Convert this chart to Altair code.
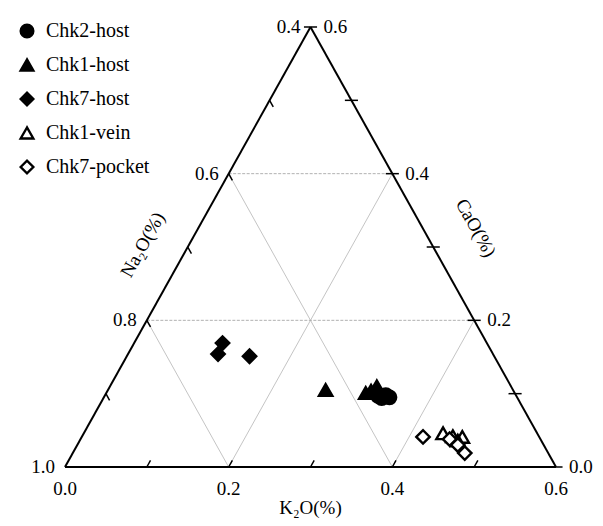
import altair as alt
import pandas as pd

# ---------------- data (ternary fractions: K2O, CaO; Na2O = 1 - K2O - CaO) -------------
series = ["Chk2-host", "Chk1-host", "Chk7-host", "Chk1-vein", "Chk7-pocket"]
shapes = ["circle", "triangle-up", "diamond", "triangle-up", "diamond"]
fills = ["black", "black", "black", "white", "white"]
strokes = ["black", "black", "black", "black", "black"]

chk2_host_k2o = [0.334, 0.343, 0.349, 0.340]
chk2_host_cao = [0.097, 0.098, 0.095, 0.094]

chk1_host_k2o = [0.266, 0.317, 0.326, 0.322]
chk1_host_cao = [0.105, 0.101, 0.110, 0.104]

chk7_host_k2o = [0.108, 0.110, 0.150]
chk7_host_cao = [0.169, 0.154, 0.151]

chk1_vein_k2o = [0.439, 0.453, 0.465, 0.462]
chk1_vein_cao = [0.046, 0.042, 0.041, 0.036]

chk7_pocket_k2o = [0.417, 0.451, 0.465, 0.479]
chk7_pocket_cao = [0.041, 0.038, 0.030, 0.019]

k2o_labels = [0.0, 0.2, 0.4, 0.6]
na2o_labels = [1.0, 0.8, 0.6, 0.4]
cao_labels = [0.0, 0.2, 0.4, 0.6]
tick_values = [0.1, 0.2, 0.3, 0.4, 0.5]
grid_values = [0.2, 0.4]
SPAN = 0.6  # range covered by each side of the partial ternary


def cart(k, c):
    """ternary (K2O, CaO) -> cartesian x, y"""
    return k + c / 2.0, c


# ---------------- points ----------------
rows = []
for name, ks, cs in [
    ("Chk2-host", chk2_host_k2o, chk2_host_cao),
    ("Chk1-host", chk1_host_k2o, chk1_host_cao),
    ("Chk7-host", chk7_host_k2o, chk7_host_cao),
    ("Chk1-vein", chk1_vein_k2o, chk1_vein_cao),
    ("Chk7-pocket", chk7_pocket_k2o, chk7_pocket_cao),
]:
    for k, c in zip(ks, cs):
        x, y = cart(k, c)
        rows.append({"series": name, "x": x, "y": y, "K2O": k, "CaO": c})
pts = pd.DataFrame(rows)

# ---------------- frame, grid, ticks ----------------
def seg(k1, c1, k2, c2):
    x1, y1 = cart(k1, c1)
    x2, y2 = cart(k2, c2)
    return {"x": x1, "y": y1, "x2": x2, "y2": y2}

edges = pd.DataFrame([
    seg(0, 0, SPAN, 0),
    seg(SPAN, 0, 0, SPAN),
    seg(0, SPAN, 0, 0),
])

hgrid = pd.DataFrame([seg(0, v, SPAN - v, v) for v in grid_values])
dgrid = pd.DataFrame(
    [seg(v, 0, v, SPAN - v) for v in grid_values]      # constant K2O
    + [seg(v, 0, 0, v) for v in grid_values]           # constant Na2O
)

TL = 0.009
tick_rows = []
for v in tick_values:
    tick_rows.append(seg(v, 0, v, TL))                 # bottom (K2O)
    tick_rows.append(seg(0, v, TL, v - TL))            # left (Na2O)
for v in [0.0] + tick_values + [SPAN]:
    xr, yr = cart(SPAN - v, v)
    tick_rows.append({"x": xr - 0.008, "y": yr, "x2": xr + 0.008, "y2": yr})  # right (CaO)
ticks = pd.DataFrame(tick_rows)

bottom_lab = pd.DataFrame([dict(zip(["x", "y"], cart(v, 0)), t=f"{v:.1f}") for v in k2o_labels])
left_lab = pd.DataFrame([dict(zip(["x", "y"], cart(0, 1 - v)), t=f"{v:.1f}") for v in na2o_labels])
right_lab = pd.DataFrame([dict(zip(["x", "y"], cart(SPAN - v, v)), t=f"{v:.1f}") for v in cao_labels])

titles_b = pd.DataFrame([{"x": 0.30, "y": 0.0, "t": "K₂O(%)"}])
titles_l = pd.DataFrame([{"x": 0.095, "y": 0.303, "t": "Na₂O(%)"}])
titles_r = pd.DataFrame([{"x": 0.502, "y": 0.326, "t": "CaO(%)"}])

FONT = "Times New Roman, Liberation Serif, DejaVu Serif, serif"
FS = 19
xs = alt.Scale(domain=[0, SPAN], nice=False, zero=False)
ys = alt.Scale(domain=[0, SPAN], nice=False, zero=False)
X = alt.X("x:Q", scale=xs, axis=None)
Y = alt.Y("y:Q", scale=ys, axis=None)


def rules(df, **kw):
    return alt.Chart(df).mark_rule(**kw).encode(x=X, y=Y, x2="x2:Q", y2="y2:Q")


def texts(df, **kw):
    return alt.Chart(df).mark_text(font=FONT, fontSize=FS, color="black", **kw).encode(
        x=X, y=Y, text="t:N")


grid_h = rules(hgrid, color="#a8a8a8", strokeWidth=0.9, strokeDash=[3, 1.5])
grid_d = rules(dgrid, color="#bdbdbd", strokeWidth=0.9)
frame = rules(edges, color="black", strokeWidth=2)
tick_layer = rules(ticks, color="black", strokeWidth=1.5)

lab_b = texts(bottom_lab, align="center", baseline="top", dy=13)
lab_l = texts(left_lab, align="right", baseline="middle", dx=-10)
lab_r = texts(right_lab, align="left", baseline="middle", dx=13)
tit_b = texts(titles_b, align="center", baseline="middle", dy=41)
tit_l = texts(titles_l, align="center", baseline="middle", angle=299)
tit_r = texts(titles_r, align="center", baseline="middle", angle=61)


def leg():
    return alt.Legend(title=None, orient="none", legendX=-48, legendY=-6,
                      labelFont=FONT, labelFontSize=20, labelColor="black",
                      symbolSize=160, symbolStrokeWidth=2.4,
                      symbolStrokeColor="black", rowPadding=11,
                      labelOffset=9, padding=0)


points = alt.Chart(pts).mark_point(strokeWidth=2.4, opacity=1, size=180).encode(
    x=X, y=Y,
    shape=alt.Shape("series:N", scale=alt.Scale(domain=series, range=shapes), legend=leg()),
    fill=alt.Fill("series:N", scale=alt.Scale(domain=series, range=fills), legend=leg()),
    stroke=alt.Stroke("series:N", scale=alt.Scale(domain=series, range=strokes), legend=leg()),
    tooltip=["series:N", "K2O:Q", "CaO:Q"],
)

chart = alt.layer(
    grid_d, grid_h, frame, tick_layer, points,
    lab_b, lab_l, lab_r, tit_b, tit_l, tit_r,
).properties(
    width=491, height=440,
    background="white",
    autosize=alt.AutoSizeParams(type="none"),
    padding={"left": 57, "top": 19, "right": 39, "bottom": 51},
).configure_view(stroke=None)

chart.save("out.html", embed_options={"renderer": "svg", "actions": False})
